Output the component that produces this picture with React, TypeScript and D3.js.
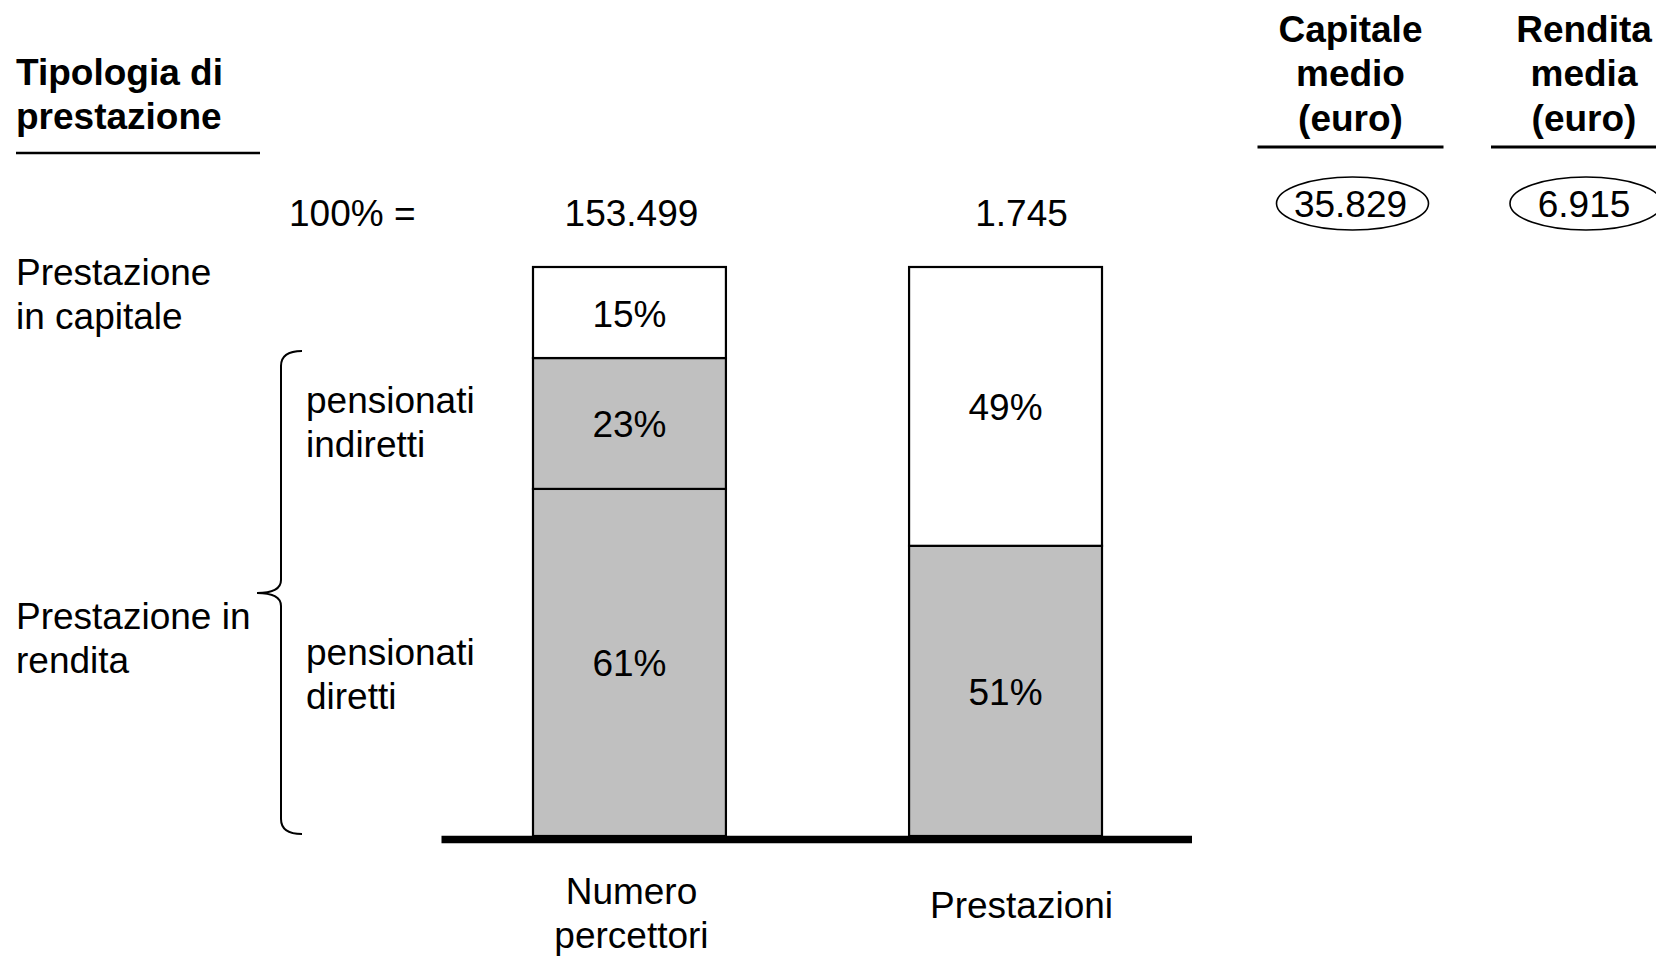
import React from "react";
import * as d3 from "d3";

// ---- data ----
const categories = ["Numero percettori", "Prestazioni"];
const categoryLines = [["Numero", "percettori"], ["Prestazioni"]];
const totals = ["153.499", "1.745"];
const segmentKeys = ["diretti", "indiretti", "capitale"];
const pensionatiDiretti = [61, 51];
const pensionatiIndiretti = [23, 0];
const prestazioneCapitale = [15, 49];
const averageHeaders = [
  ["Capitale", "medio", "(euro)"],
  ["Rendita", "media", "(euro)"],
];
const averageValues = ["35.829", "6.915"];

// ---- layout / style ----
const W = 1656;
const H = 956;
const FONT = "'Liberation Sans', Arial, Helvetica, sans-serif";
const FS = 37;
const LH = 44.4;
const GRAY = "#c0c0c0";
const segFill: Record<string, string> = { diretti: GRAY, indiretti: GRAY, capitale: "#ffffff" };
const labelDx = [2, 16];

export default function App() {
  const x = d3
    .scaleBand<string>()
    .domain(categories)
    .range([533, 1102])
    .paddingInner(0.487)
    .paddingOuter(0);
  const y = d3.scaleLinear().domain([0, 100]).range([836, 267]);

  const rows = categories.map((c, i) => ({
    cat: c,
    diretti: pensionatiDiretti[i],
    indiretti: pensionatiIndiretti[i],
    capitale: prestazioneCapitale[i],
  }));
  const series = d3.stack<any>().keys(segmentKeys)(rows);

  const segs: any[] = [];
  series.forEach((s, k) => {
    s.forEach((p, j) => {
      const v = (rows[j] as any)[s.key];
      if (!v) return;
      const y0 = p[0];
      const y1 = k === series.length - 1 ? y.domain()[1] : p[1];
      segs.push({ key: s.key, cat: categories[j], j, v, y0, y1 });
    });
  });

  const textProps = { fontFamily: FONT, fontSize: FS, fill: "#000" };

  const leftLines = (lines: string[], x0: number, y0: number, bold = false) =>
    lines.map((t, i) => (
      <text key={t + i} x={x0} y={y0 + i * LH} {...textProps} fontWeight={bold ? "bold" : "normal"}>
        {t}
      </text>
    ));

  const avgCx = [1350.5, 1584];

  return (
    <svg
      width={W}
      height={H}
      viewBox={`0 0 ${W} ${H}`}
      style={{ position: "absolute", left: 0, top: 0, background: "#fff" }}
    >
      <rect x={0} y={0} width={W} height={H} fill="#fff" />

      {/* Left title */}
      {leftLines(["Tipologia di", "prestazione"], 16, 85, true)}
      <line x1={16} x2={260} y1={153} y2={153} stroke="#000" strokeWidth={2.5} />

      {/* Row labels */}
      {leftLines(["Prestazione", "in capitale"], 16, 284.5)}
      {leftLines(["Prestazione in", "rendita"], 16, 629)}
      {leftLines(["pensionati", "indiretti"], 306, 412.5)}
      {leftLines(["pensionati", "diretti"], 306, 664.5)}

      {/* Bracket */}
      <path
        d="M302,351 Q281,351 281,366 L281,580 Q281,593 257,593 Q281,593 281,606 L281,819 Q281,834 302,834"
        fill="none"
        stroke="#000"
        strokeWidth={2}
      />

      {/* 100% = */}
      <text x={289} y={226} {...textProps}>100% =</text>
      {categories.map((c, i) => (
        <text
          key={"tot" + c}
          x={(x(c) as number) + x.bandwidth() / 2 + labelDx[i]}
          y={226}
          textAnchor="middle"
          {...textProps}
        >
          {totals[i]}
        </text>
      ))}

      {/* Bars */}
      {segs.map((s) => (
        <rect
          key={s.key + s.cat}
          x={x(s.cat)}
          y={y(s.y1)}
          width={x.bandwidth()}
          height={y(s.y0) - y(s.y1)}
          fill={segFill[s.key]}
          stroke="#000"
          strokeWidth={2.2}
        />
      ))}
      {segs.map((s) => (
        <text
          key={"l" + s.key + s.cat}
          x={(x(s.cat) as number) + x.bandwidth() / 2}
          y={(y(s.y0) + y(s.y1)) / 2 + 14}
          textAnchor="middle"
          {...textProps}
        >
          {s.v}%
        </text>
      ))}

      {/* Baseline */}
      <line x1={441.5} x2={1192} y1={y(0) + 3.5} y2={y(0) + 3.5} stroke="#000" strokeWidth={7.5} />

      {/* Category labels */}
      {categories.map((c, i) => {
        const lines = categoryLines[i];
        const y0 = lines.length === 1 ? 918 : 904;
        return lines.map((t, k) => (
          <text
            key={c + t}
            x={(x(c) as number) + x.bandwidth() / 2 + labelDx[i]}
            y={y0 + k * LH}
            textAnchor="middle"
            {...textProps}
          >
            {t}
          </text>
        ));
      })}

      {/* Averages */}
      {averageHeaders.map((lines, i) => (
        <g key={"avg" + i}>
          {lines.map((t, k) => (
            <text
              key={t + k}
              x={avgCx[i]}
              y={42 + k * LH}
              textAnchor="middle"
              {...textProps}
              fontWeight="bold"
            >
              {t}
            </text>
          ))}
          <line
            x1={avgCx[i] - 93}
            x2={avgCx[i] + 93}
            y1={147}
            y2={147}
            stroke="#000"
            strokeWidth={3}
          />
          <ellipse cx={avgCx[i] + 2} cy={203.5} rx={76} ry={26.5} fill="none" stroke="#000" strokeWidth={1.6} />
          <text x={avgCx[i]} y={216.5} textAnchor="middle" {...textProps}>
            {averageValues[i]}
          </text>
        </g>
      ))}
    </svg>
  );
}
